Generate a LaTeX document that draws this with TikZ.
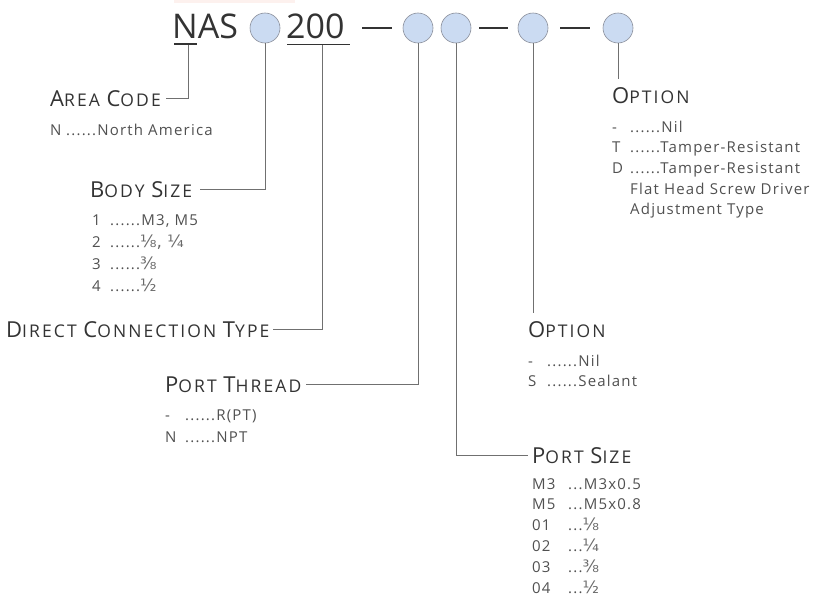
\documentclass[tikz,border=0pt]{standalone}
\usepackage{fontspec}
\newfontfamily\hdf{Open Sans}[LetterSpace=12]
\newfontfamily\itf{Open Sans}[LetterSpace=8]
\newfontfamily\ttlf{Open Sans}
\newfontfamily\frf{DejaVu Sans}
\definecolor{headc}{HTML}{333333}
\definecolor{itemc}{HTML}{505050}
\definecolor{linec}{HTML}{707070}
\definecolor{circf}{HTML}{CBDBF2}
\definecolor{circd}{HTML}{8A8E9A}
\definecolor{pinkc}{HTML}{FDF1EE}
\newcommand\Bg[1]{{\fontsize{22}{22}\selectfont #1}}
\newcommand\Sm[1]{{\fontsize{17.5}{17.5}\selectfont #1}}
\newcommand\fr[1]{{\frf\fontsize{17}{17}\selectfont\color{itemc!85} #1}}
\newcommand\lst[2]{\vtop{\baselineskip=#1\lineskiplimit=-30pt\lineskip=0pt #2}}
\newcommand\rw[3]{\hbox{\makebox[#1][l]{#2}#3}}
\newcommand\dd{......}
\newcommand\ds{...}
\tikzset{
  head/.style={anchor=base west, inner sep=0pt, text=headc, font=\hdf},
  items/.style={anchor=base west, inner sep=0pt, text=itemc, font=\itf\fontsize{15}{15}\selectfont},
  ttl/.style={anchor=base west, inner sep=0pt, text=headc, font=\ttlf\fontsize{34}{34}\selectfont},
  circ/.style={circle, minimum size=30pt, inner sep=0pt, fill=circf, draw=circd, line width=0.6pt},
  conn/.style={draw=linec, line width=0.9pt},
  dashl/.style={draw=headc, line width=2pt},
  uline/.style={draw=headc, line width=1.4pt}
}
\begin{document}
\begin{tikzpicture}[x=1pt,y=-1pt]
\useasboundingbox (0,0) rectangle (834,597);
\fill[pinkc] (174,0) rectangle (295,3);
% title
\node[ttl] (nas) at (172,38) {NAS};
\node[ttl] (num) at (286,38) {200};
\draw[uline] (174,44) -- (197,44);
\draw[uline] (287,44.5) -- (350,44.5);
\coordinate (uN) at (188,45);
\coordinate (u200) at (322,45);
\node[circ] (c1) at (265,28) {};
\node[circ] (c2) at (418,28) {};
\node[circ] (c3) at (456,28) {};
\node[circ] (c4) at (533,28) {};
\node[circ] (c5) at (618,28) {};
\draw[dashl] (362,28) -- (392,28);
\draw[dashl] (479,28) -- (508,28);
\draw[dashl] (560,28) -- (590,28);
% headings
\node[head] (area) at (50,106) {\Bg{A}\Sm{REA\ }\Bg{C}\Sm{ODE}};
\node[head] (body) at (90,197) {\Bg{B}\Sm{ODY\ }\Bg{S}\Sm{IZE}};
\node[head] (direct) at (6,337) {\Bg{D}\Sm{IRECT\ }\Bg{C}\Sm{ONNECTION\ }\Bg{T}\Sm{YPE}};
\node[head] (pthread) at (165,392) {\Bg{P}\Sm{ORT\ }\Bg{T}\Sm{HREAD}};
\node[head] (optm) at (528,337) {\Bg{O}\Sm{PTION}};
\node[head] (psize) at (532,463) {\Bg{P}\Sm{ORT\ }\Bg{S}\Sm{IZE}};
\node[head] (optr) at (612,103) {\Bg{O}\Sm{PTION}};
% item lists
\node[items] (areai) at (50,135) {\lst{21pt}{\rw{16pt}{N}{\dd North America}}};
\node[items] (bodyi) at (92,225) {\lst{22.3pt}{%
  \rw{18pt}{1}{\dd M3, M5}%
  \rw{18pt}{2}{\dd\fr{⅛, ¼}}%
  \rw{18pt}{3}{\dd\fr{⅜}}%
  \rw{18pt}{4}{\dd\fr{½}}}};
\node[items] (pthreadi) at (165,420) {\lst{22pt}{%
  \rw{20pt}{-}{\dd R(PT)}%
  \rw{20pt}{N}{\dd NPT}}};
\node[items] (optmi) at (528,366) {\lst{20pt}{%
  \rw{19pt}{-}{\dd Nil}%
  \rw{19pt}{S}{\dd Sealant}}};
\node[items] (psizei) at (532,489) {\lst{20.8pt}{%
  \rw{36pt}{M3}{\ds M3x0.5}%
  \rw{36pt}{M5}{\ds M5x0.8}%
  \rw{36pt}{01}{\ds\fr{⅛}}%
  \rw{36pt}{02}{\ds\fr{¼}}%
  \rw{36pt}{03}{\ds\fr{⅜}}%
  \rw{36pt}{04}{\ds\fr{½}}}};
\node[items] (optri) at (612,132) {\lst{20.7pt}{%
  \rw{18pt}{-}{\dd Nil}%
  \rw{18pt}{T}{\dd Tamper-Resistant}%
  \rw{18pt}{D}{\dd Tamper-Resistant}%
  \rw{18pt}{}{Flat Head Screw Driver}%
  \rw{18pt}{}{Adjustment Type}}};
% connectors
\coordinate (om) at ([yshift=8pt]optm.north);
\coordinate (or) at ([yshift=8pt]optr.north);
\draw[conn] (uN) |- ([xshift=5pt]area.east);
\draw[conn] (c1.south) |- ([xshift=8pt]body.east);
\draw[conn] (u200) |- ([xshift=3pt]direct.east);
\draw[conn] (c2.south) |- ([xshift=5pt]pthread.east);
\draw[conn] (c3.south) |- ([xshift=-4pt]psize.west);
\draw[conn] (c4.south) -- (c4.south |- om);
\draw[conn] (c5.south) -- (c5.south |- or);
\end{tikzpicture}
\end{document}
